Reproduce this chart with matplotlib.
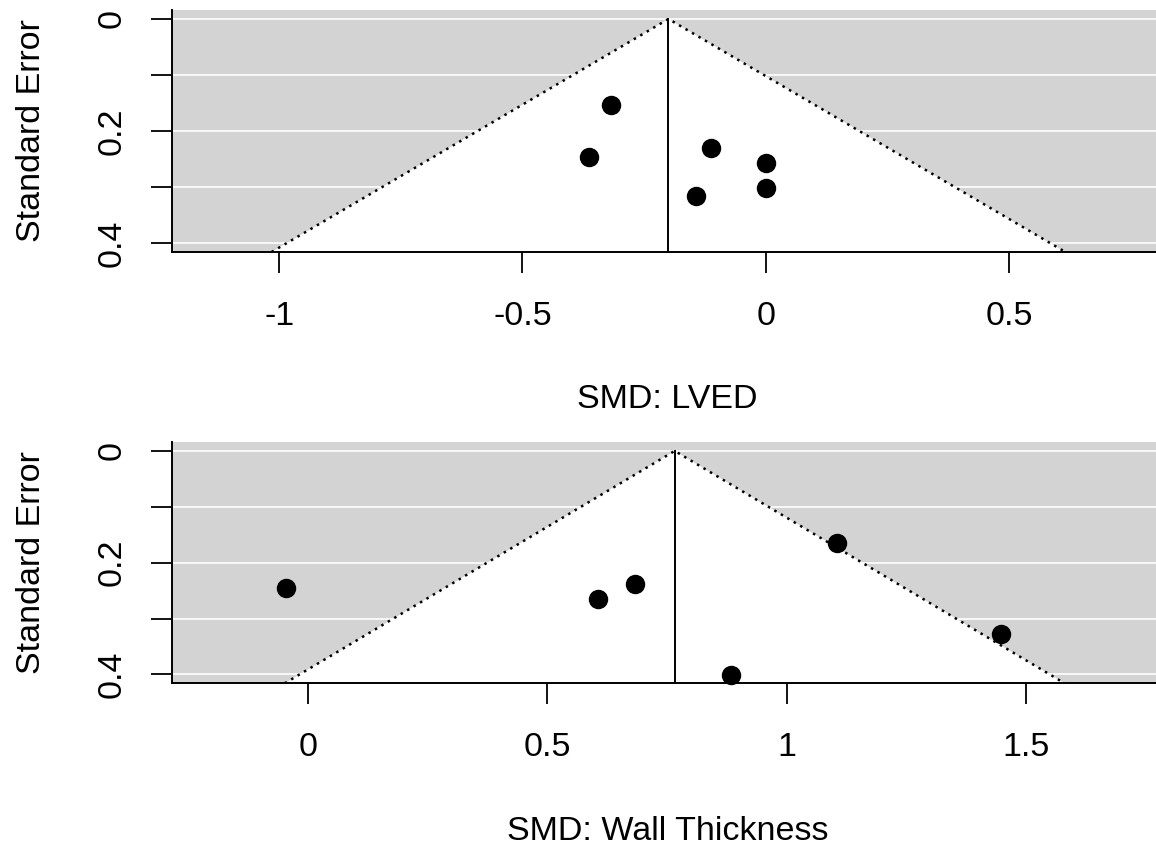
import matplotlib
matplotlib.use('Agg')
import matplotlib.pyplot as plt
import numpy as np

plt.rcParams['font.family'] = ['Liberation Sans', 'DejaVu Sans']

# Study values
lved_smd = [-0.318, -0.364, -0.112, 0.0, 0.0, -0.144]
lved_se = [0.154, 0.246, 0.231, 0.258, 0.301, 0.316]
lved_est = -0.2

wall_smd = [-0.047, 0.606, 0.682, 1.105, 0.884, 1.449]
wall_se = [0.246, 0.265, 0.238, 0.165, 0.401, 0.327]
wall_est = 0.766

se_ticks = [0, 0.1, 0.2, 0.3, 0.4]
se_labels = ['0', '', '0.2', '', '0.4']

lved_ticks = [-1, -0.5, 0, 0.5]
lved_labels = ['-1', '-0.5', '0', '0.5']
wall_ticks = [0, 0.5, 1, 1.5]
wall_labels = ['0', '0.5', '1', '1.5']


def funnel(ax, smd, se, est, xlim, xticks, xlabels, xlabel):
    ylim = (0.416, -0.016)
    ax.set_xlim(xlim)
    ax.set_ylim(ylim)

    # grey background with white guide lines
    ax.set_facecolor('#D3D3D3')
    for y in se_ticks:
        ax.axhline(y, color='white', lw=1.2, zorder=1)

    # pseudo confidence region (white triangle)
    ybot = ylim[0]
    tri_x = [est - 1.96 * ybot, est, est + 1.96 * ybot]
    tri_y = [ybot, 0, ybot]
    ax.fill(tri_x, tri_y, color='white', zorder=2, lw=0)
    ax.plot(tri_x, tri_y, color='black', lw=1.8, ls=(0, (1, 2)), zorder=3)
    ax.plot([est, est], [0, ybot], color='black', lw=1.4, zorder=3)

    # studies
    ax.plot(smd, se, 'o', color='black', ms=13, zorder=4, clip_on=False)

    # axes styling (R bty="l")
    for side in ['top', 'right']:
        ax.spines[side].set_visible(False)
    for side in ['left', 'bottom']:
        ax.spines[side].set_linewidth(1.4)
    ax.set_yticks(se_ticks)
    ax.set_yticklabels(se_labels, rotation=90, va='center', fontsize=24.5)
    ax.set_xticks(xticks)
    ax.set_xticklabels(xlabels, fontsize=24.5)
    ax.tick_params(axis='both', length=15, width=1.3)
    ax.tick_params(axis='x', pad=20)
    ax.tick_params(axis='y', pad=17)
    ax.set_xlabel(xlabel, fontsize=24.5, labelpad=38)
    ax.set_ylabel('Standard Error', fontsize=24.5, labelpad=36)


fig = plt.figure(figsize=(11.56, 8.51), dpi=100)

ax1 = fig.add_axes([0.14879, 0.70388, 0.85727, 0.28437])
funnel(ax1, lved_smd, lved_se, lved_est, (-1.22, 0.816),
       lved_ticks, lved_labels, 'SMD: LVED')

ax2 = fig.add_axes([0.14879, 0.19706, 0.85727, 0.28355])
funnel(ax2, wall_smd, wall_se, wall_est, (-0.285, 1.787),
       wall_ticks, wall_labels, 'SMD: Wall Thickness')

fig.savefig('out.png', dpi=100)
